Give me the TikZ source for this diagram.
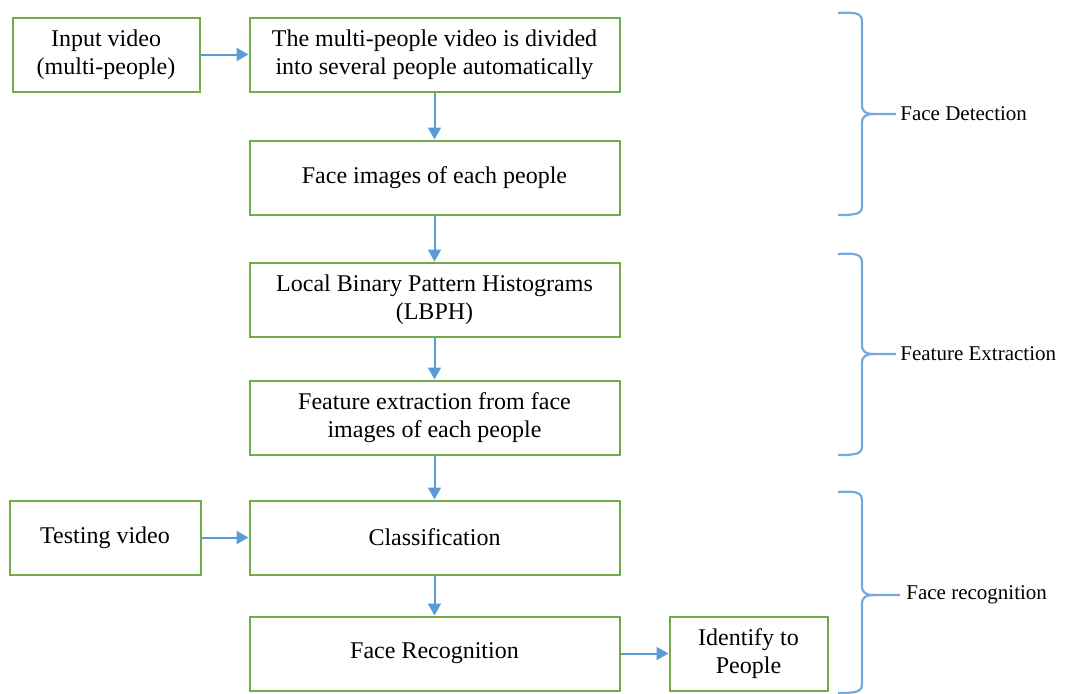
\documentclass[tikz,border=0pt]{standalone}
\usepackage{fontspec}
\setmainfont{Liberation Serif}
\usepackage{tikz}
\usetikzlibrary{positioning,arrows.meta}

\definecolor{boxgreen}{RGB}{112,173,71}
\definecolor{arrowblue}{RGB}{91,155,213}

\tikzset{
  box/.style={draw=boxgreen, line width=1pt, minimum width=185pt, minimum height=37pt,
    align=center, inner sep=2pt, font=\fontsize{12}{14}\selectfont},
  brace/.style={draw=arrowblue!85, line width=1.1pt, -},
  bracelabel/.style={anchor=west, inner sep=0pt, font=\fontsize{10.5}{12}\selectfont}
}

\begin{document}
\begin{tikzpicture}[x=0.5pt,y=-0.5pt,->,>={Triangle[length=6pt,width=6.5pt]},
  every edge/.style={draw=arrowblue, line width=1pt}]
\useasboundingbox (0,0) rectangle (1071,693);
%
\node [box, minimum width=93.5pt] (input) at (106,54.5) {Input video\\(multi-people)};
\node [box, right = 24pt of input] (divide) {The multi-people video is divided\\into several people automatically};
\node [box, below = 23.5pt of divide] (faceimg) {Face images of each people};
\path (input) edge (divide);
\path (divide) edge (faceimg);

%
\node [box, below = 23pt of faceimg] (lbph) {Local Binary Pattern Histograms\\(LBPH)};
\node [box, below = 21pt of lbph] (feature) {Feature extraction from face\\images of each people};
\path (faceimg) edge (lbph);
\path (lbph) edge (feature);

%
\node [box, below = 22pt of feature] (classify) {Classification};
\node [box, minimum width=95.5pt, left = 23.5pt of classify] (testing) {Testing video};
\node [box, below = 20pt of classify] (recog) {Face Recognition};
\node [box, minimum width=79pt, right = 24pt of recog] (identify) {Identify to\\People};
\path (feature) edge (classify);
\path (testing) edge (classify);
\path (classify) edge (recog);
\path (recog) edge (identify);

%
\draw [brace] (838,13) .. controls (856,12) and (862,13) .. (862,22) -- (862,105)
  .. controls (862,112) and (866,114) .. (874,114) -- (896,114);
\draw [brace] (874,114) .. controls (866,114) and (862,116) .. (862,123) -- (862,206)
  .. controls (862,214) and (856,215) .. (838,215);
\node [bracelabel] (detlabel) at (900,114) {Face Detection};

\draw [brace] (838,254) .. controls (856,253) and (862,254) .. (862,263) -- (862,345)
  .. controls (862,352) and (866,354) .. (874,354) -- (896,354);
\draw [brace] (874,354) .. controls (866,354) and (862,356) .. (862,363) -- (862,446)
  .. controls (862,454) and (856,455) .. (838,455);
\node [bracelabel] (extlabel) at (900,354) {Feature Extraction};

\draw [brace] (838,492) .. controls (856,491) and (862,492) .. (862,501) -- (862,586)
  .. controls (862,593) and (866,595) .. (874,595) -- (900,595);
\draw [brace] (874,595) .. controls (866,595) and (862,597) .. (862,604) -- (862,684)
  .. controls (862,692) and (856,693) .. (838,693);
\node [bracelabel] (reclabel) at (906,595) {Face recognition};
\end{tikzpicture}
\end{document}
